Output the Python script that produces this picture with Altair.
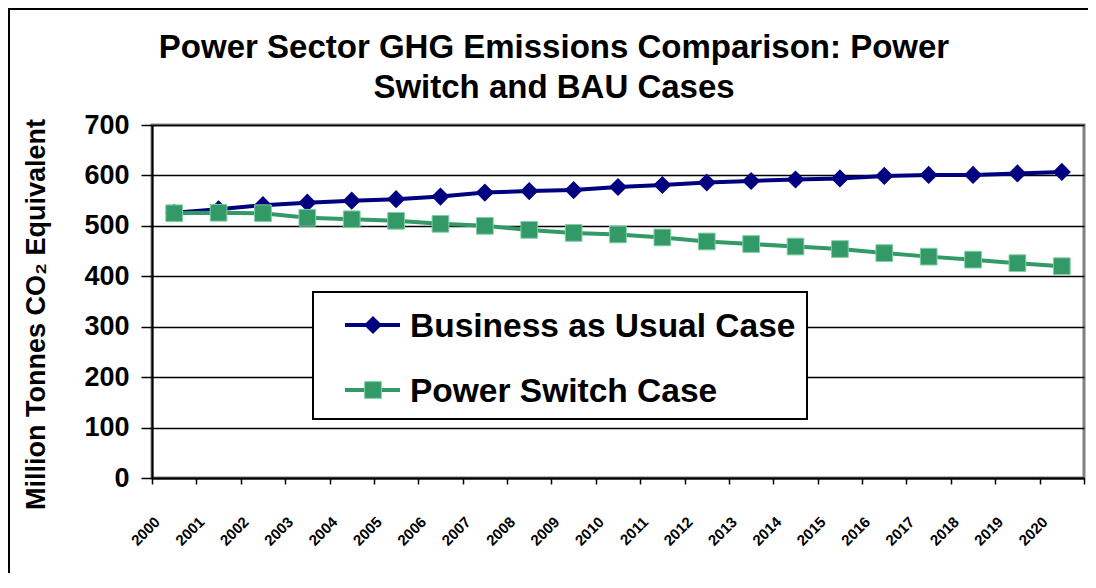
import altair as alt
import pandas as pd

# ---- data ----
years = list(range(2000, 2021))
bau = [526, 533, 541, 546, 550, 553, 558, 566, 569, 571, 577,
       581, 586, 589, 592, 594, 599, 601, 601, 604, 607]
power_switch = [525, 526, 525, 516, 513, 510, 504, 500, 492, 486, 483,
                477, 469, 464, 459, 454, 446, 439, 433, 426, 420]
series_names = ["Business as Usual Case", "Power Switch Case"]
title_lines = ["Power Sector GHG Emissions Comparison: Power", "Switch and BAU Cases"]
y_title = "Million Tonnes CO\u2082 Equivalent"
x_tick_values = list(range(2000, 2022))
y_tick_values = [0, 100, 200, 300, 400, 500, 600, 700]

NAVY = "#000080"
GREEN = "#339966"
FONT = "Liberation Sans"

df_bau = pd.DataFrame({"year": years, "value": bau})
df_ps = pd.DataFrame({"year": years, "value": power_switch})
one = pd.DataFrame({"k": [0]})

x_scale = alt.Scale(domain=[2000, 2021], nice=False, zero=False)

x_enc = alt.X(
    "xpos:Q",
    scale=x_scale,
    axis=alt.Axis(
        values=x_tick_values, format="d", tickSize=6, grid=False, title=None,
        labelAngle=-45, labelPadding=30, labelFontSize=15, labelFont=FONT,
        labelFontWeight="bold", labelColor="black", labelOverlap=False, labelFlush=False,
        labelExpr="datum.value > 2020 ? '' : datum.label",
        domainColor="black", domainWidth=2, tickColor="black", tickWidth=1.5,
    ),
)
y_enc = alt.Y(
    "value:Q",
    scale=alt.Scale(domain=[0, 700], nice=False),
    axis=alt.Axis(
        values=y_tick_values, grid=True, gridColor="black", gridWidth=1.5,
        tickSize=11, tickColor="black", tickWidth=1.5, labelPadding=12,
        labelFontSize=27, labelFont=FONT, labelFontWeight="bold", labelColor="black",
        domainColor="black", domainWidth=2,
        title=y_title, titleAngle=270, titleX=-108, titleY=189,
        titleAlign="center", titleBaseline="alphabetic",
        titleFontSize=27, titleFont=FONT, titleFontWeight="bold", titleColor="black",
    ),
)

frame = alt.Chart(one).mark_rect(fillOpacity=0, stroke="black", strokeWidth=2).encode(
    x=alt.value(-143), x2=alt.value(1100), y=alt.value(-116), y2=alt.value(600)
)

title_marks = [
    alt.Chart(one).mark_text(
        text=line, align="center", baseline="alphabetic", font=FONT,
        fontSize=33, fontWeight="bold", color="black",
    ).encode(x=alt.value(402), y=alt.value(yv))
    for line, yv in zip(title_lines, [-67, -27])
]

line_bau = alt.Chart(df_bau).transform_calculate(xpos="datum.year + 0.5").mark_line(
    color=NAVY, strokeWidth=4,
    point=alt.OverlayMarkDef(shape="diamond", size=330, filled=True, color=NAVY),
).encode(x=x_enc, y=y_enc)

line_ps = alt.Chart(df_ps).transform_calculate(xpos="datum.year + 0.5").mark_line(
    color=GREEN, strokeWidth=4,
    point=alt.OverlayMarkDef(shape="square", size=280, filled=True, fill=GREEN,
                             stroke="#80cfa6", strokeWidth=1),
).encode(x=x_enc, y=y_enc)

legend_box = alt.Chart(one).mark_rect(fill="white", stroke="black", strokeWidth=2).encode(
    x=alt.value(161), x2=alt.value(655), y=alt.value(167), y2=alt.value(294)
)

def legend_entry(name, line_color, shape, size, y_line, y_text, **pt):
    rule = alt.Chart(one).mark_rule(color=line_color, strokeWidth=4).encode(
        x=alt.value(193), x2=alt.value(248), y=alt.value(y_line)
    )
    sym = alt.Chart(one).mark_point(shape=shape, size=size, filled=True, opacity=1, **pt).encode(
        x=alt.value(221), y=alt.value(y_line)
    )
    txt = alt.Chart(one).mark_text(
        text=name, align="left", baseline="alphabetic", font=FONT,
        fontSize=33.5, fontWeight="bold", color="black",
    ).encode(x=alt.value(258), y=alt.value(y_text))
    return [rule, sym, txt]

leg1 = legend_entry(series_names[0], NAVY, "diamond", 330, 200, 212, color=NAVY)
leg2 = legend_entry(series_names[1], GREEN, "square", 280, 265, 277,
                    fill=GREEN, stroke="#80cfa6", strokeWidth=1)

chart = alt.layer(frame, *title_marks, line_bau, line_ps, legend_box, *leg1, *leg2).properties(
    width=932, height=353,
    autosize=alt.AutoSizeParams(type="none"),
    padding={"left": 144, "top": 117, "right": 4, "bottom": 95},
    background="white",
).configure_view(stroke="#808080", strokeWidth=3)

chart.save("out.html", embed_options={"renderer": "svg", "actions": False})
